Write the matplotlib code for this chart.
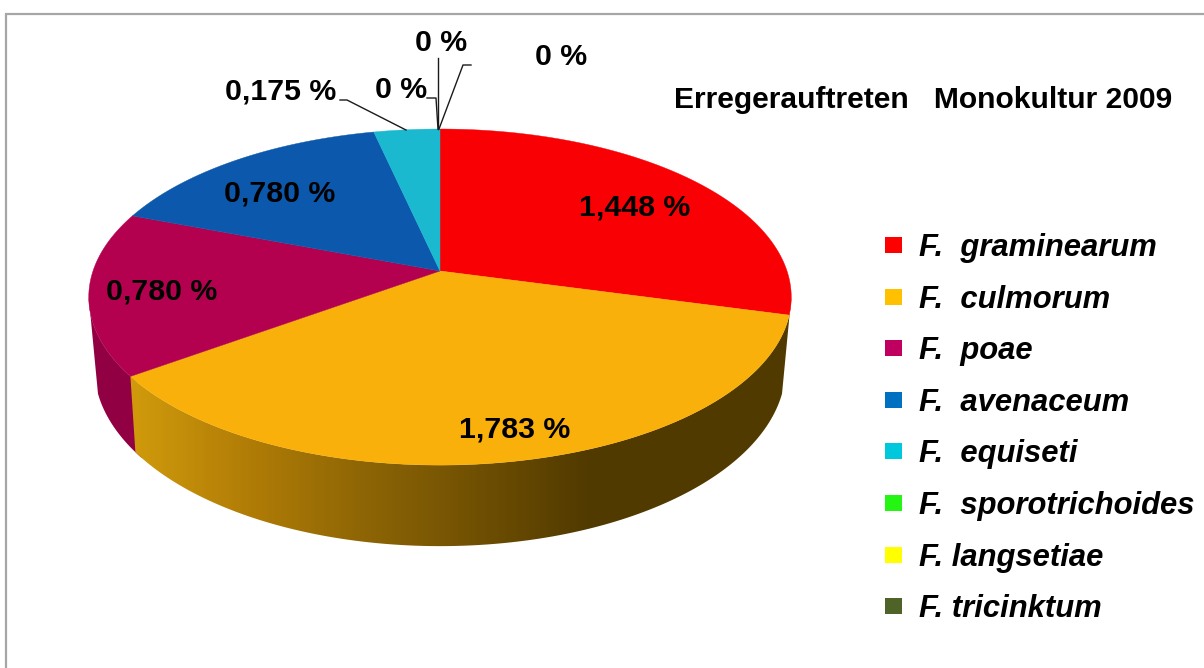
#!/usr/bin/env python3
# 3D looking pie of pathogen shares, drawn on a pixel sized axes

import numpy as np
import matplotlib
matplotlib.use("Agg")
import matplotlib.pyplot as plt
from matplotlib.colors import LinearSegmentedColormap
from matplotlib.patches import Polygon, Rectangle

species = ["F.  graminearum", "F.  culmorum", "F.  poae", "F.  avenaceum",
           "F.  equiseti", "F.  sporotrichoides", "F. langsetiae", "F. tricinktum"]
values = [1.448, 1.783, 0.780, 0.780, 0.175, 0, 0, 0]
value_labels = ["1,448 %", "1,783 %", "0,780 %", "0,780 %", "0,175 %", "0 %", "0 %", "0 %"]
top_colors = ["#f80004", "#fab00a", "#b3004f", "#0b58ac", "#1bb9d0", "#24f512", "#ffff00", "#4f6228"]
legend_colors = ["#ff0000", "#ffc000", "#c00060", "#0070c0", "#00c8dc", "#24f512", "#ffff00", "#4f6228"]
label_xy = [(635, 207), (515, 430), (162, 291), (280, 193), (281, 92), (401, 90), (441, 43), (561, 57)]

plt.rcParams["font.family"] = ["Liberation Sans", "DejaVu Sans"]

# perspective of the pie, fitted on the reference
CX, CY = 440, 271
RX, RY, K = 347, 164, 0.155


def top_xy(angle):
    """Angle in degrees clockwise from 12 o'clock to pixel position on the top face"""
    a = np.radians(angle)
    u, v = np.sin(a), np.cos(a)
    w = 1 + K * v
    return CX + RX * u / w, CY - RY * v / w


def bottom_xy(angle):
    """Same position on the lower rim of the side wall"""
    x, y = top_xy(angle)
    return CX + (x - CX) * 0.984, CY + (y - CY) * 1.06 + 69.4


def side_polygon(t0, t1, b0, b1):
    """Wall between an arc of the top face and an arc of the lower rim"""
    tx, ty = top_xy(np.linspace(t0, t1, 200))
    bx, by = bottom_xy(np.linspace(b1, b0, 200))
    return np.column_stack([np.r_[tx, bx], np.r_[ty, by]])


fig = plt.figure(figsize=(12.04, 6.68), dpi=100)
ax = fig.add_axes([0, 0, 1, 1])
ax.set_xlim(0, 1204)
ax.set_ylim(668, 0)
ax.axis("off")

# frame of the chart, open at right and bottom
ax.plot([6, 6, 1204], [668, 14, 14], color="#a6a6a6", lw=1.6, solid_joinstyle="miter")

edges = np.r_[0, np.cumsum(values)] / sum(values) * 360

# side walls, the culmorum one has a gradient
ax.add_patch(Polygon(side_polygon(edges[2] - 2, 261, edges[2] - 2, 253), fc="#920044", ec="none", zorder=1))
wall = Polygon(side_polygon(99, edges[2], 107, edges[2]), fc="none", ec="none")
ax.add_patch(wall)
wall_cmap = LinearSegmentedColormap.from_list(
    "wall", [(0, "#dca40e"), (0.047, "#d09a0c"), (0.214, "#b07c06"), (0.386, "#8c6405"),
             (0.7, "#513a00"), (1, "#513a00")])
img = ax.imshow(np.linspace(0, 1, 700)[None, :], cmap=wall_cmap, extent=(100, 800, 560, 280),
                aspect="auto", zorder=2)
img.set_clip_path(wall)
ax.set_xlim(0, 1204)
ax.set_ylim(668, 0)

# top face
for i, val in enumerate(values):
    if val == 0:
        continue
    angles = np.linspace(edges[i], edges[i + 1], 200)
    x, y = top_xy(angles)
    pts = np.column_stack([np.r_[CX, x], np.r_[CY, y]])
    ax.add_patch(Polygon(pts, fc=top_colors[i], ec=top_colors[i], lw=0.3, zorder=3))

# leader lines of the small slices
leaders = [([340, 347, 406], [100, 100, 130]),
           ([427, 436, 438], [98, 98, 129]),
           ([438, 438], [58, 129]),
           ([471, 463, 439], [65, 65, 129])]
for lx, ly in leaders:
    ax.plot(lx, ly, color="#1a1a1a", lw=1.0, zorder=4)

for txt, (x, y) in zip(value_labels, label_xy):
    ax.text(x, y, txt, fontsize=21.8, fontweight="bold", ha="center", va="center",
            color="black", zorder=5)

ax.text(923, 100, "Erregerauftreten   Monokultur 2009", fontsize=21.6, fontweight="bold",
        ha="center", va="center", color="black", zorder=5)

# legend
for i, name in enumerate(species):
    ly = 245 + i * 51.6
    ax.add_patch(Rectangle((885, ly - 8), 17, 16, fc=legend_colors[i], ec="none"))
    ax.text(919, ly + 3, name, fontsize=22.3, fontweight="bold", fontstyle="italic",
            ha="left", va="center", color="black")

fig.savefig("out.png", dpi=100)
